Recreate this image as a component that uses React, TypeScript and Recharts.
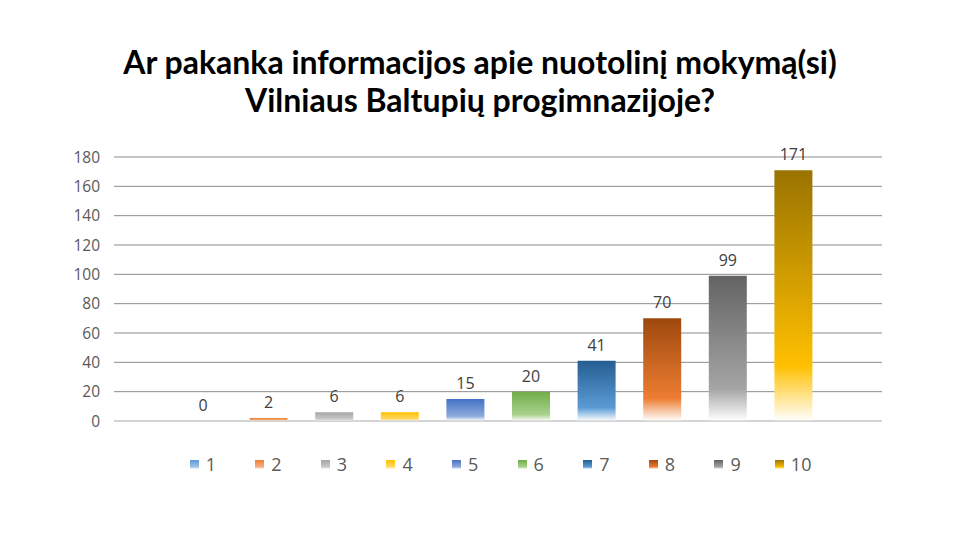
import React from "react"
import { BarChart, Bar, XAxis, YAxis, CartesianGrid, Legend, LabelList, ReferenceLine } from "recharts"

const seriesNames = ["1", "2", "3", "4", "5", "6", "7", "8", "9", "10"]
const seriesValues = [0, 2, 6, 6, 15, 20, 41, 70, 99, 171]
const topColors = ["#5B9BD5", "#ED7D31", "#A5A5A5", "#FFC000", "#4472C4", "#70AD47", "#255E91", "#9E480E", "#636363", "#997300"]
const midColors = ["#9DC3E6", "#F4B183", "#C9C9C9", "#FFD966", "#8FAADC", "#A9D18E", "#5B9BD5", "#ED7D31", "#A5A5A5", "#FFC000"]
const yTicks = [0, 20, 40, 60, 80, 100, 120, 140, 160, 180]

const row: Record<string, string | number> = { name: "" }
seriesNames.forEach((s, i) => {
  row["s" + s] = seriesValues[i]
})
const data = [row]

const font = "'Open Sans', sans-serif"

// legend drawn in series order (recharts sorts its payload by name)
function LegendContent() {
  return (
    <div style={{ display: "flex", width: 656 }}>
      {seriesNames.map((s) => (
        <div
          key={s}
          style={{ width: 65.6, display: "flex", alignItems: "center", justifyContent: "center", gap: 7 }}
        >
          <svg width={9} height={9}>
            <rect x={0} y={0} width={9} height={9} fill={`url(#g${s})`} />
          </svg>
          <span style={{ fontFamily: font, fontSize: 18, color: "#595959", lineHeight: "22px" }}>{s}</span>
        </div>
      ))}
    </div>
  )
}

export default function App() {
  return (
    <div style={{ position: "absolute", left: 0, top: 0, width: 960, height: 540, background: "#fff" }}>
      <div
        style={{
          position: "absolute",
          top: 43,
          left: 0,
          width: 960,
          textAlign: "center",
          fontFamily: "Lato, sans-serif",
          fontWeight: 700,
          fontSize: 32,
          lineHeight: "38px",
          color: "#000",
        }}
      >
        Ar pakanka informacijos apie nuotolinį mokymą(si)
        <br />
        Vilniaus Baltupių progimnazijoje?
      </div>
      <BarChart
        width={960}
        height={540}
        data={data}
        margin={{ top: 157, right: 78, left: 54, bottom: 119 }}
        barSize={38}
        barGap={27.6}
        style={{ position: "absolute", left: 0, top: 0 }}
      >
        <defs>
          {seriesNames.map((s, i) => (
            <linearGradient key={s} id={"g" + s} x1="0" y1="0" x2="0" y2="1">
              <stop offset="0" stopColor={topColors[i]} />
              <stop offset="0.78" stopColor={midColors[i]} />
              <stop offset="1" stopColor="#ffffff" />
            </linearGradient>
          ))}
        </defs>
        <CartesianGrid vertical={false} stroke="#8c8c8c" />
        <XAxis dataKey="name" hide />
        <YAxis
          width={60}
          domain={[0, 180]}
          ticks={yTicks}
          axisLine={false}
          tickLine={false}
          tickMargin={8}
          tick={{ fill: "#595959", fontSize: 15.5, fontFamily: font }}
        />
        <ReferenceLine y={0} stroke="#d9d9d9" strokeWidth={1.5} />
        <Legend
          verticalAlign="middle"
          content={<LegendContent />}
          wrapperStyle={{ top: 453, left: 170, width: 656 }}
        />
        {seriesNames.map((s) => (
          <Bar
            key={s}
            dataKey={"s" + s}
            name={s}
            fill={`url(#g${s})`}
            minPointSize={0.01}
            isAnimationActive={false}
          >
            <LabelList
              dataKey={"s" + s}
              position="top"
              offset={10}
              fill="#404040"
              fontSize={16}
              fontFamily={font}
            />
          </Bar>
        ))}
      </BarChart>
    </div>
  )
}
